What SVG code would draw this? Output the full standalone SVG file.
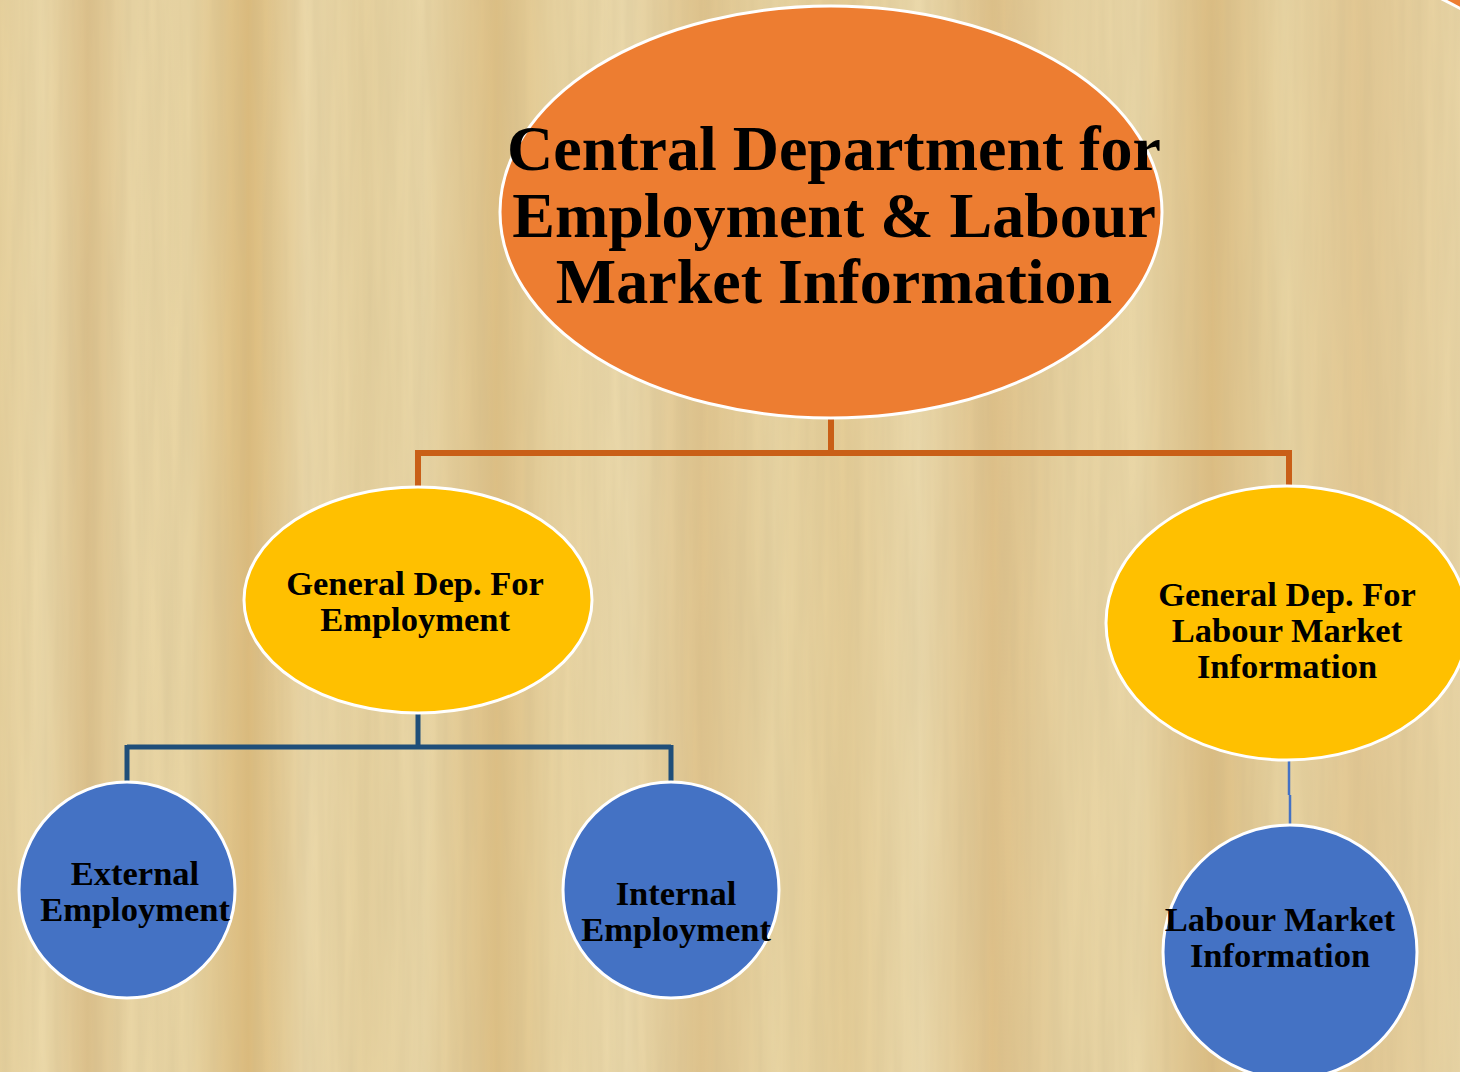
<svg xmlns="http://www.w3.org/2000/svg" width="1460" height="1072" viewBox="0 0 1460 1072">
<defs>
<linearGradient id="paper" x1="0" y1="0" x2="1" y2="0">
<stop offset="0" stop-color="#E6D09C"/>
<stop offset="0.03" stop-color="#EBD8A8"/>
<stop offset="0.06" stop-color="#DCC08A"/>
<stop offset="0.09" stop-color="#E9D5A4"/>
<stop offset="0.13" stop-color="#E8D4A2"/>
<stop offset="0.17" stop-color="#DCBB7C"/>
<stop offset="0.21" stop-color="#EAD7A8"/>
<stop offset="0.25" stop-color="#E6D19E"/>
<stop offset="0.29" stop-color="#E9D6A6"/>
<stop offset="0.34" stop-color="#DDBF84"/>
<stop offset="0.38" stop-color="#E8D3A0"/>
<stop offset="0.43" stop-color="#EAD8AA"/>
<stop offset="0.48" stop-color="#DFC38C"/>
<stop offset="0.53" stop-color="#E8D4A2"/>
<stop offset="0.58" stop-color="#E4CC96"/>
<stop offset="0.63" stop-color="#EBD9AB"/>
<stop offset="0.68" stop-color="#DEC088"/>
<stop offset="0.73" stop-color="#E7D2A0"/>
<stop offset="0.78" stop-color="#E9D6A6"/>
<stop offset="0.83" stop-color="#DCBD82"/>
<stop offset="0.88" stop-color="#E8D4A2"/>
<stop offset="0.93" stop-color="#E2C792"/>
<stop offset="1" stop-color="#E9D5A5"/>
</linearGradient>
<filter id="grain" x="0" y="0" width="100%" height="100%">
<feTurbulence type="fractalNoise" baseFrequency="0.08 0.004" numOctaves="3" seed="4"/>
<feColorMatrix type="matrix" values="0 0 0 0 0.55  0 0 0 0 0.45  0 0 0 0 0.25  0 0 0 0.35 -0.08"/>
</filter>
</defs>
<style>
.lvl0{fill:#ED7D31;stroke:#FFFFFF;stroke-width:3}
.lvl1{fill:#FFC000;stroke:#FFFFFF;stroke-width:3}
.lvl2{fill:#4472C4;stroke:#FFFFFF;stroke-width:3}
text{font-family:"Liberation Serif","Times New Roman",serif;font-weight:bold;fill:#000000;text-anchor:middle}
.t0{font-size:64px}
.t1{font-size:34.5px}
.c-orange{fill:none;stroke:#C95F17;stroke-width:6}
.c-navy{fill:none;stroke:#1F4E79;stroke-width:5}
.c-blue{fill:none;stroke:#4472C4;stroke-width:2.5}
</style>
<rect x="0" y="0" width="1460" height="1072" fill="url(#paper)"/>
<rect x="0" y="0" width="1460" height="1072" filter="url(#grain)"/>
<g id="connectors">
<path class="c-orange" d="M831 418 V453 M418 453 H1289 M418 450 V488 M1289 450 V488"/>
<path class="c-navy" d="M418 713 V747 M127 747 H671 M127 745 V783 M671 745 V783"/>
<path class="c-blue" d="M1289 761 V795 M1290 795 V827"/>
</g>
<g id="corner-fragment">
<path class="lvl0" d="M1438 -3 Q1450 3 1463 10 L1463 -3 Z"/>
</g>
<g id="node-central">
<ellipse class="lvl0" cx="831" cy="212" rx="331" ry="206"/>
<text class="t0" x="834" y="170">Central Department for</text>
<text class="t0" x="834" y="237">Employment &amp; Labour</text>
<text class="t0" x="834" y="303">Market Information</text>
</g>
<g id="node-gen-employment">
<ellipse class="lvl1" cx="418" cy="600" rx="174" ry="113"/>
<text class="t1" x="415" y="595">General Dep. For</text>
<text class="t1" x="415" y="631">Employment</text>
</g>
<g id="node-gen-lmi">
<ellipse class="lvl1" cx="1287" cy="623" rx="181" ry="137"/>
<text class="t1" x="1287" y="606">General Dep. For</text>
<text class="t1" x="1287" y="642">Labour Market</text>
<text class="t1" x="1287" y="678">Information</text>
</g>
<g id="node-external">
<circle class="lvl2" cx="127" cy="890" r="108"/>
<text class="t1" x="135" y="885">External</text>
<text class="t1" x="135" y="921">Employment</text>
</g>
<g id="node-internal">
<circle class="lvl2" cx="671" cy="890" r="108"/>
<text class="t1" x="676" y="905">Internal</text>
<text class="t1" x="676" y="941">Employment</text>
</g>
<g id="node-lmi">
<circle class="lvl2" cx="1290" cy="952" r="127"/>
<text class="t1" x="1280" y="931">Labour Market</text>
<text class="t1" x="1280" y="967">Information</text>
</g>
</svg>
